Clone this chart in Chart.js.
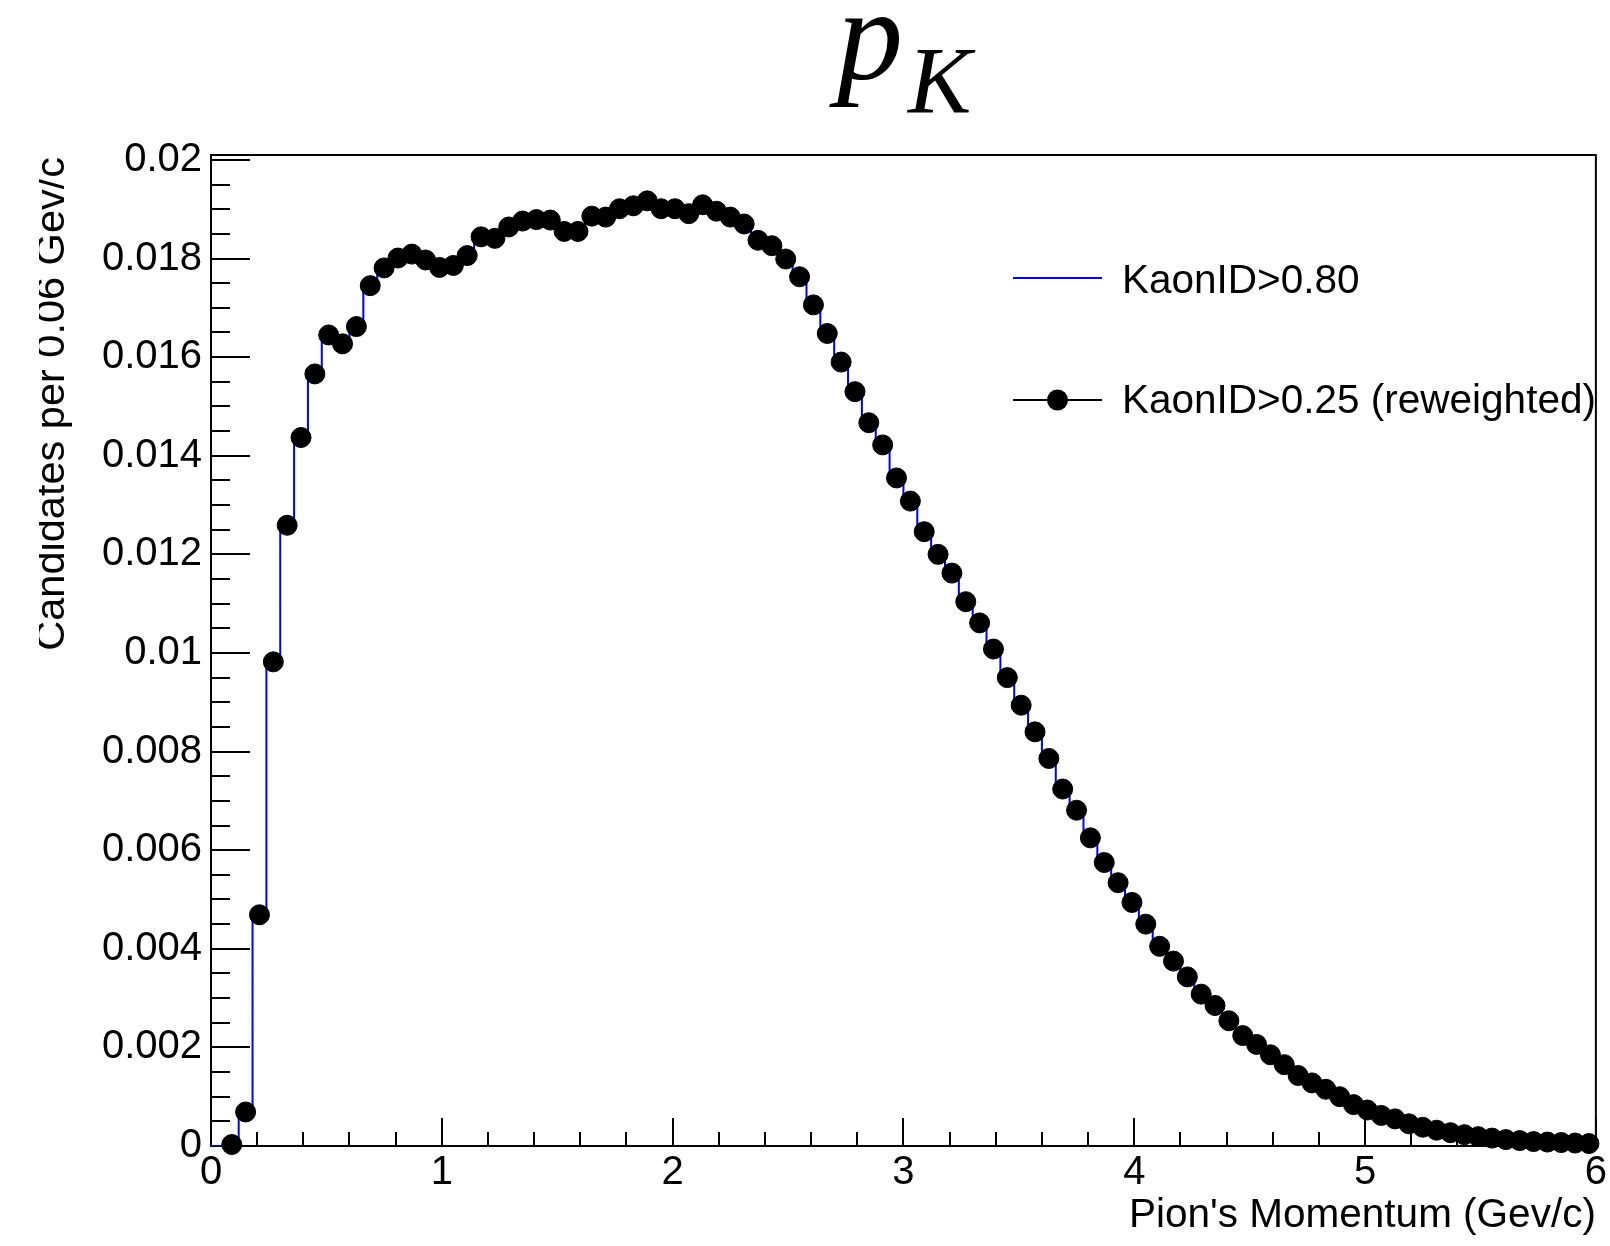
<!DOCTYPE html>
<html>
<head>
<meta charset="utf-8">
<title>p_K</title>
<script src="https://cdn.jsdelivr.net/npm/chart.js@4.4.1/dist/chart.umd.min.js"></script>
<style>
  html, body { margin: 0; padding: 0; background: #fff; }
  #chart { display: block; }
</style>
</head>
<body>
<canvas id="chart" width="1610" height="1246"></canvas>
<script>
// Histogram binning: 100 bins of 0.06 GeV/c from 0 to 6
const BIN_WIDTH = 0.06;
const X_MIN = 0;
const X_MAX = 6;
const Y_MAX = 0.0201;

// KaonID>0.80, content of bins 0..99 (blue outline)
const kaon080 = [
  0.00000, 0.00003, 0.00069, 0.00469, 0.00982, 0.01259, 0.01437, 0.01566, 0.01645, 0.01627,
  0.01662, 0.01745, 0.01781, 0.01801, 0.01809, 0.01797, 0.01782, 0.01786, 0.01806, 0.01844,
  0.01841, 0.01864, 0.01876, 0.01879, 0.01878, 0.01855, 0.01855, 0.01886, 0.01884, 0.01901,
  0.01907, 0.01917, 0.01901, 0.01901, 0.01891, 0.01909, 0.01896, 0.01884, 0.01870, 0.01837,
  0.01826, 0.01799, 0.01763, 0.01706, 0.01648, 0.01590, 0.01530, 0.01467, 0.01422, 0.01355,
  0.01308, 0.01246, 0.01200, 0.01162, 0.01104, 0.01061, 0.01008, 0.00950, 0.00894, 0.00840,
  0.00786, 0.00724, 0.00681, 0.00625, 0.00575, 0.00534, 0.00494, 0.00450, 0.00405, 0.00375,
  0.00343, 0.00308, 0.00285, 0.00254, 0.00224, 0.00206, 0.00185, 0.00165, 0.00143, 0.00128,
  0.00115, 0.00100, 0.00084, 0.00073, 0.00062, 0.00055, 0.00045, 0.00038, 0.00032, 0.00027,
  0.00023, 0.00019, 0.00016, 0.00013, 0.00011, 0.00009, 0.00008, 0.00007, 0.00006, 0.00005
];

// KaonID>0.25 (reweighted), bins 1..99 (bin 0 is empty, no marker)
const FIRST_MARKER_BIN = 1;
const kaon025 = [
           0.00003, 0.00069, 0.00469, 0.00982, 0.01259, 0.01437, 0.01566, 0.01645, 0.01627,
  0.01662, 0.01745, 0.01781, 0.01801, 0.01809, 0.01797, 0.01782, 0.01786, 0.01806, 0.01844,
  0.01841, 0.01864, 0.01876, 0.01879, 0.01878, 0.01855, 0.01855, 0.01886, 0.01884, 0.01901,
  0.01907, 0.01917, 0.01901, 0.01901, 0.01891, 0.01909, 0.01896, 0.01884, 0.01870, 0.01837,
  0.01826, 0.01799, 0.01763, 0.01706, 0.01648, 0.01590, 0.01530, 0.01467, 0.01422, 0.01355,
  0.01308, 0.01246, 0.01200, 0.01162, 0.01104, 0.01061, 0.01008, 0.00950, 0.00894, 0.00840,
  0.00786, 0.00724, 0.00681, 0.00625, 0.00575, 0.00534, 0.00494, 0.00450, 0.00405, 0.00375,
  0.00343, 0.00308, 0.00285, 0.00254, 0.00224, 0.00206, 0.00185, 0.00165, 0.00143, 0.00128,
  0.00115, 0.00100, 0.00084, 0.00073, 0.00062, 0.00055, 0.00045, 0.00038, 0.00032, 0.00027,
  0.00023, 0.00019, 0.00016, 0.00013, 0.00011, 0.00009, 0.00008, 0.00007, 0.00006, 0.00005
];

// Axis ticks and labels
const xTicks = [0, 1, 2, 3, 4, 5, 6];
const xTickLabels = ['0', '1', '2', '3', '4', '5', '6'];
const yTicks = [0, 0.002, 0.004, 0.006, 0.008, 0.01, 0.012, 0.014, 0.016, 0.018, 0.02];
const yTickLabels = ['0', '0.002', '0.004', '0.006', '0.008', '0.01', '0.012', '0.014', '0.016', '0.018', '0.02'];

const titleMain = 'p';
const titleSub = 'K';
const xTitle = "Pion's Momentum (Gev/c)";
const yTitle = 'Candidates per 0.06 Gev/c';
const legendLabels = ['KaonID>0.80', 'KaonID>0.25 (reweighted)'];

const SANS = '"Liberation Sans", Arial, sans-serif';
const SERIF = '"Liberation Serif", "Times New Roman", serif';

// Histogram outline: one point per left bin edge, plus the closing edge
const histPoints = kaon080.map((v, i) => ({ x: i * BIN_WIDTH, y: v }));
histPoints.push({ x: X_MAX, y: kaon080[kaon080.length - 1] });

// Markers at bin centres
const markerPoints = kaon025.map((v, i) => ({ x: (i + FIRST_MARKER_BIN + 0.5) * BIN_WIDTH, y: v }));

// ROOT style frame with inward ticks, titles and legend
const rootFrame = {
  id: 'rootFrame',
  beforeDatasetsDraw(chart) {
    const { ctx, chartArea: a, scales: { x, y } } = chart;
    ctx.save();
    ctx.strokeStyle = '#000';
    ctx.lineWidth = 2;
    ctx.strokeRect(a.left, a.top, a.right - a.left, a.bottom - a.top);
    ctx.beginPath();
    // y ticks: major every 0.002, minor every 0.0005
    for (let k = 0; k <= 40; k++) {
      const py = Math.round(y.getPixelForValue(k * 0.0005));
      if (py < a.top) continue;
      const len = k % 4 === 0 ? 39 : 19;
      ctx.moveTo(a.left, py);
      ctx.lineTo(a.left + len, py);
    }
    // x ticks: major every 1, minor every 0.2
    for (let k = 0; k <= 30; k++) {
      const px = Math.round(x.getPixelForValue(k * 0.2));
      const len = k % 5 === 0 ? 28 : 14;
      ctx.moveTo(px, a.bottom);
      ctx.lineTo(px, a.bottom - len);
    }
    ctx.stroke();
    ctx.restore();
  },
  afterDraw(chart) {
    const { ctx, chartArea: a } = chart;
    ctx.save();
    ctx.fillStyle = '#000';

    // title p_K
    ctx.textAlign = 'left';
    ctx.textBaseline = 'alphabetic';
    ctx.font = 'italic 132px ' + SERIF;
    ctx.fillText(titleMain, 837, 79);
    ctx.font = 'italic 95px ' + SERIF;
    ctx.fillText(titleSub, 908, 113);

    // x axis title, right aligned to the frame
    ctx.font = '40.5px ' + SANS;
    ctx.textAlign = 'right';
    ctx.fillText(xTitle, a.right, 1227);

    // y axis title, rotated, ending at top of the frame (clipped on the left like the original)
    ctx.save();
    ctx.beginPath();
    ctx.rect(39, 0, 200, 1246);
    ctx.clip();
    ctx.translate(64, a.top + 2);
    ctx.rotate(-Math.PI / 2);
    ctx.font = '41.5px ' + SANS;
    ctx.textAlign = 'right';
    ctx.fillText(yTitle, 0, 0);
    ctx.restore();

    // legend
    ctx.lineWidth = 2;
    ctx.strokeStyle = '#0000ff';
    ctx.beginPath();
    ctx.moveTo(1013, 278);
    ctx.lineTo(1102, 278);
    ctx.stroke();
    ctx.strokeStyle = '#000';
    ctx.beginPath();
    ctx.moveTo(1013, 400);
    ctx.lineTo(1102, 400);
    ctx.stroke();
    ctx.beginPath();
    ctx.arc(1057.5, 400, 10.5, 0, Math.PI * 2);
    ctx.fill();
    ctx.font = '40.5px ' + SANS;
    ctx.textAlign = 'left';
    ctx.fillText(legendLabels[0], 1122, 293);
    ctx.fillText(legendLabels[1], 1122, 413);
    ctx.restore();
  }
};

const ctx = document.getElementById('chart').getContext('2d');
new Chart(ctx, {
  type: 'line',
  data: {
    datasets: [
      {
        label: legendLabels[1],
        data: markerPoints,
        showLine: false,
        pointStyle: 'circle',
        pointRadius: 10,
        pointBorderWidth: 1,
        pointBackgroundColor: '#000',
        pointBorderColor: '#000',
        clip: false,
        order: 0
      },
      {
        label: legendLabels[0],
        data: histPoints,
        stepped: 'before',
        borderColor: '#0000ff',
        borderWidth: 2,
        pointRadius: 0,
        fill: false,
        order: 1
      }
    ]
  },
  options: {
    responsive: false,
    devicePixelRatio: 1,
    animation: false,
    events: [],
    layout: { padding: { top: 155, right: 11, left: 0, bottom: 0 } },
    plugins: {
      legend: { display: false },
      tooltip: { enabled: false },
      title: { display: false }
    },
    scales: {
      x: {
        type: 'linear',
        min: X_MIN,
        max: X_MAX,
        afterBuildTicks: s => { s.ticks = xTicks.map(v => ({ value: v })); },
        afterFit: s => { s.height = 100; },
        grid: { display: false, drawTicks: false },
        border: { display: false },
        ticks: {
          autoSkip: false,
          maxRotation: 0,
          padding: 3,
          color: '#000',
          font: { family: SANS, size: 40 },
          callback: (v, i) => xTickLabels[i]
        }
      },
      y: {
        type: 'linear',
        min: 0,
        max: Y_MAX,
        afterBuildTicks: s => { s.ticks = yTicks.map(v => ({ value: v })); },
        afterFit: s => { s.width = 211; },
        grid: { display: false, drawTicks: false },
        border: { display: false },
        ticks: {
          autoSkip: false,
          padding: 9,
          color: '#000',
          font: { family: SANS, size: 40 },
          callback: (v, i) => yTickLabels[i]
        }
      }
    }
  },
  plugins: [rootFrame]
});
</script>
</body>
</html>
